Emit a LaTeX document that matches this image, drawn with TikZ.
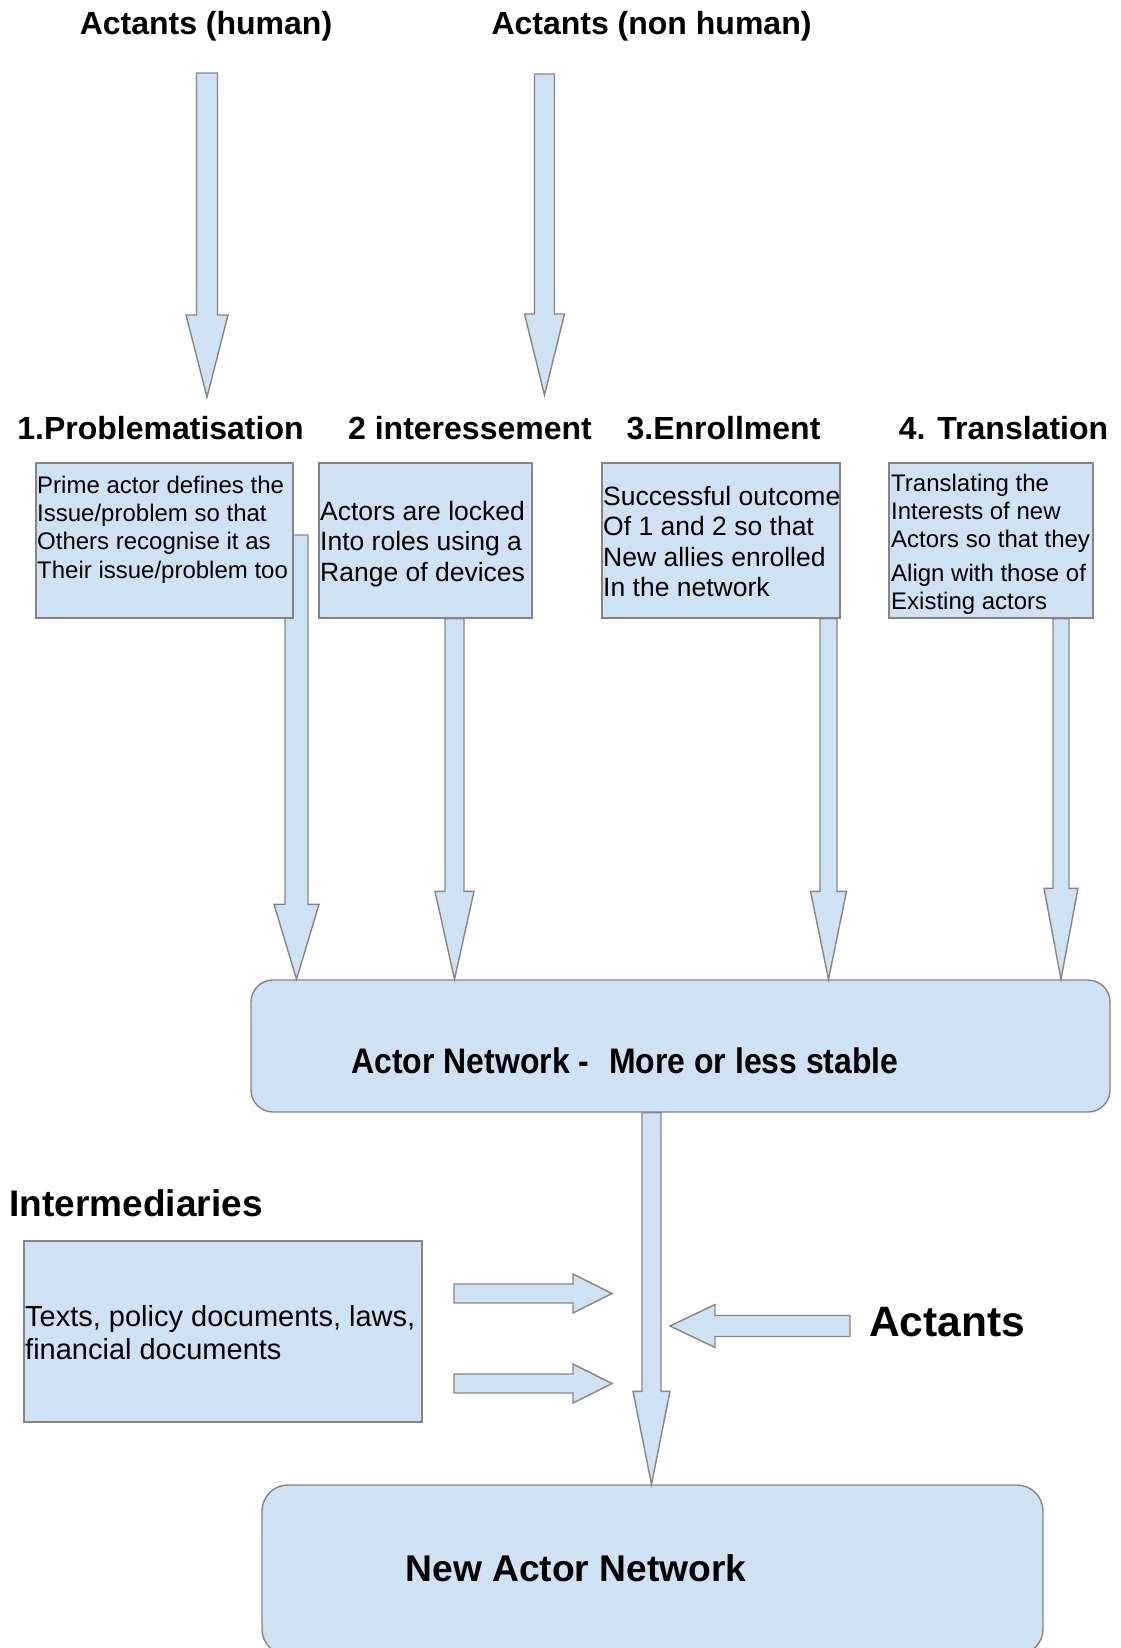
\documentclass[tikz,border=0pt]{standalone}
\usepackage{fontspec}
\setmainfont{Liberation Sans}
\usetikzlibrary{calc}
\definecolor{boxblue}{HTML}{CFE2F3}
\definecolor{edgegray}{HTML}{858585}

\begin{document}
\begin{tikzpicture}[x=1pt, y=-1pt,
    head/.style={font=\fontsize{32}{38}\selectfont\bfseries, inner sep=0pt, anchor=base},
    card/.style 2 args={draw=edgegray, fill=boxblue, line width=1.4pt, inner sep=0pt,
      minimum width=#1, minimum height=#2},
    cardtext/.style={align=left, inner sep=0pt, anchor=west},
    blockarr/.style n args={3}{draw=edgegray, fill=boxblue, line width=1.4pt, line join=miter,
      to path={let \p1=(\tikztostart), \p2=(\tikztotarget),
        \n1={veclen(\x2-\x1,\y2-\y1)}, \n2={(\x2-\x1)/\n1}, \n3={(\y2-\y1)/\n1} in
        ({\x1-#2*(\n3)},{\y1+#2*(\n2)})
        -- ({\x2-#1*(\n2)-#2*(\n3)},{\y2-#1*(\n3)+#2*(\n2)})
        -- ({\x2-#1*(\n2)-#3*(\n3)},{\y2-#1*(\n3)+#3*(\n2)})
        -- (\tikztotarget)
        -- ({\x2-#1*(\n2)+#3*(\n3)},{\y2-#1*(\n3)-#3*(\n2)})
        -- ({\x2-#1*(\n2)+#2*(\n3)},{\y2-#1*(\n3)-#2*(\n2)})
        -- ({\x1+#2*(\n3)},{\y1-#2*(\n2)}) -- cycle}}]
  \useasboundingbox (0,0) rectangle (1120,1648);
  \clip (0,0) rectangle (1120,1648);

  % actants on top
  \node[head] (hum) at (206,35) {Actants (human)};
  \node[head] (nonhum) at (651.5,35) {Actants (non human)};
  \coordinate (hs) at (207,73);
  \coordinate (he) at (207,397);
  \coordinate (ns) at (544.5,74);
  \coordinate (ne) at (544.5,395);
  \draw[blockarr={82}{10.5}{21}] (hs) to (he);
  \draw[blockarr={81}{10}{20}] (ns) to (ne);

  % the four moments
  \node[head] (prob) at (160.5,439) {1.Problematisation};
  \node[head] (inte) at (470,439) {2 interessement};
  \node[head] (enrol) at (723.5,439) {3.Enrollment};
  \node[head] (transl) at (1003.5,439) {4. Translation};

  % networks
  \node[card={859pt}{132pt}, rounded corners=22pt] (net) at (680.5,1046) {};
  \node[anchor=base, inner sep=0pt, font=\fontsize{35.5}{40}\selectfont\bfseries] (nettext) at (625,1073)
    {\scalebox{0.9}[1]{Actor Network -\hspace{22pt}More or less stable}};
  \node[card={781pt}{170pt}, rounded corners=26pt] (newnet) at (652.5,1570) {};
  \node[anchor=base, inner sep=0pt, font=\fontsize{37.2}{44}\selectfont\bfseries] (newtext) at (576,1581)
    {New Actor Network};

  \coordinate (a1) at (296.5,535);
  \draw[blockarr={75}{11.5}{22.5}] (a1) to (a1 |- net.north);

  \node[card={257pt}{155pt}] (pb1) at (164.5,540.5) {};
  \node[cardtext, font=\fontsize{24}{28.4}\selectfont] (t1) at (37,529.5)
    {Prime actor defines the\\Issue/problem so that\\Others recognise it as\\Their issue/problem too};
  \node[card={213pt}{155pt}] (pb2) at (425.5,540.5) {};
  \node[cardtext, font=\fontsize{26.5}{30.5}\selectfont] (t2) at (320,544)
    {Actors are locked\\Into roles using a\\Range of devices};
  \node[card={238pt}{155pt}] (pb3) at (721,540.5) {};
  \node[cardtext, font=\fontsize{26.5}{30.3}\selectfont] (t3) at (603,541.5)
    {Successful outcome\\Of 1 and 2 so that\\New allies enrolled\\In the network};
  \node[card={204pt}{155pt}] (pb4) at (991,540.5) {};
  \node[cardtext, font=\fontsize{24}{28.3}\selectfont] (t4) at (891,544)
    {Translating the\\Interests of new\\Actors so that they\\[5pt]Align with those of\\Existing actors};

  \coordinate (a2) at ([xshift=29pt]pb2.south);
  \coordinate (a3) at ([xshift=107.5pt]pb3.south);
  \coordinate (a4) at ([xshift=70pt]pb4.south);
  \draw[blockarr={88}{9.5}{19.5}] (a2) to (a2 |- net.north);
  \draw[blockarr={88}{8.5}{18}] (a3) to (a3 |- net.north);
  \draw[blockarr={91}{8}{17}] (a4) to (a4 |- net.north);

  \coordinate (a5) at ([xshift=-29pt]net.south);
  \draw[blockarr={93}{9.5}{18.5}] (a5) to (a5 |- newnet.north);

  % intermediaries
  \node[anchor=base west, inner sep=0pt, font=\fontsize{37}{42}\selectfont\bfseries] (interhead) at (9.5,1216)
    {Intermediaries};
  \node[card={398pt}{181pt}] (inter) at (223,1331.5) {};
  \node[cardtext, font=\fontsize{29}{33}\selectfont] (t5) at (25,1332.5)
    {Texts, policy documents, laws,\\financial documents};
  \coordinate (r1s) at (454,1293.5);
  \coordinate (r1e) at (612,1293.5);
  \coordinate (r2s) at (454,1383.5);
  \coordinate (r2e) at (612,1383.5);
  \draw[blockarr={39}{9.5}{19.5}] (r1s) to (r1e);
  \draw[blockarr={39}{9.5}{19.5}] (r2s) to (r2e);

  % actants on the right
  \node[anchor=base west, inner sep=0pt, font=\fontsize{42.5}{48}\selectfont\bfseries] (act) at (869,1336) {Actants};
  \coordinate (ls) at (850,1326);
  \coordinate (le) at (670,1326);
  \draw[blockarr={45}{10.5}{21.5}] (ls) to (le);
\end{tikzpicture}
\end{document}
